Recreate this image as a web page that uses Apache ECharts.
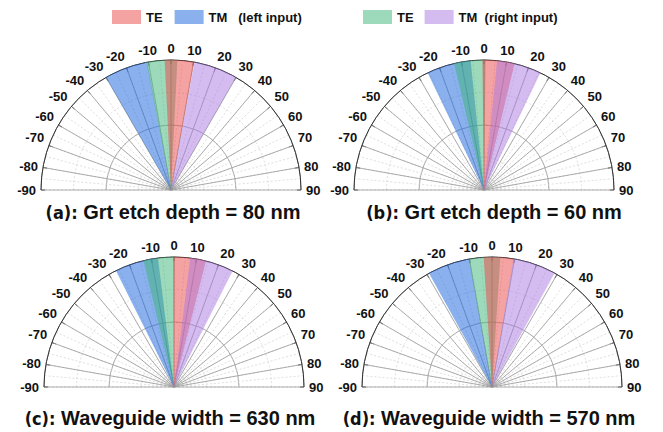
<!DOCTYPE html>
<html>
<head>
<meta charset="utf-8">
<script src="https://cdn.jsdelivr.net/npm/echarts@6/dist/echarts.min.js"></script>
<style>
  html, body { margin: 0; padding: 0; background: #fff; }
  #chart { width: 663px; height: 432px; }
</style>
</head>
<body>
<div id="chart"></div>
<script>
// panel labels and captions
var panelTags = ['(a):', '(b):', '(c):', '(d):'];
var panelTitles = ['Grt etch depth = 80 nm', 'Grt etch depth = 60 nm',
                   'Waveguide width = 630 nm', 'Waveguide width = 570 nm'];

// angular ranges [from, to] in degrees, one per panel
var tmLeft  = [[-30, -10.5], [-25.7, -5.9], [-26.5, -7.1], [-29, -10.1]];
var teRight = [[-10.9, 2.8], [-13.3, 0.7], [-13.6, 0.3], [-10.2, 3.7]];
var teLeft  = [[-2.8, 10.3], [-0.7, 13.6], [-0.3, 14.2], [-3.7, 9.7]];
var tmRight = [[10.4, 30],   [5.8, 25.7],  [7.2, 26.8],  [9.5, 28.8]];

// angle axis range and ticks
var angleMin = -90, angleMax = 90, angleStep = 10;

(function() {
  var chart = echarts.init(document.getElementById('chart'), null, { renderer: 'svg' });
  var font = "'Liberation Sans', Arial, sans-serif";
  var centers = [[171, 190], [484, 190], [174, 387], [492, 387]];
  var titlePos = [[168, 197], [489, 197], [165, 403], [484, 403]];
  var R = 130;

  var modes = [
    { name: 'TM-L', data: tmLeft,  color: 'rgba(30,105,220,0.52)' },
    { name: 'TE-R', data: teRight, color: 'rgba(60,180,120,0.5)' },
    { name: 'TE-L', data: teLeft,  color: 'rgba(236,70,70,0.5)' },
    { name: 'TM-R', data: tmRight, color: 'rgba(170,120,225,0.5)' }
  ];

  function wedge(params, api) {
    var a1 = api.value(0), a2 = api.value(1);
    var pts = [api.coord([0, (a1 + a2) / 2])];
    var n = 30;
    for (var i = 0; i <= n; i++) {
      pts.push(api.coord([1, a1 + (a2 - a1) * i / n]));
    }
    return { type: 'polygon', shape: { points: pts }, style: { fill: api.visual('color') } };
  }

  var polar = [], angleAxis = [], radiusAxis = [], series = [], title = [];
  centers.forEach(function(c, k) {
    // fine dotted grid
    polar.push({ center: c, radius: [0, R] });
    angleAxis.push({
      polarIndex: 2 * k, type: 'value', min: angleMin, max: angleMax, interval: angleStep / 2,
      startAngle: 180, endAngle: 0, clockwise: true,
      axisLine: { show: false }, axisTick: { show: false }, axisLabel: { show: false },
      splitLine: { show: true, lineStyle: { color: '#d6d6d6', width: 0.8, type: [2, 2] } }
    });
    radiusAxis.push({
      polarIndex: 2 * k, type: 'value', min: 0, max: 1, interval: 0.25,
      axisLine: { show: false }, axisTick: { show: false }, axisLabel: { show: false },
      splitLine: { show: true, lineStyle: { color: '#d6d6d6', width: 0.8, type: [2, 2] } }
    });
    // main grid with labels
    polar.push({ center: c, radius: [0, R] });
    angleAxis.push({
      polarIndex: 2 * k + 1, type: 'value', min: angleMin, max: angleMax, interval: angleStep,
      startAngle: 180, endAngle: 0, clockwise: true,
      axisLine: { show: true, lineStyle: { color: '#333', width: 1 } },
      axisTick: { show: true, inside: true, length: 4, lineStyle: { color: '#333' } },
      axisLabel: { show: true, margin: 5, fontSize: 13, fontWeight: 'bold', color: '#111', fontFamily: font },
      splitLine: { show: true, lineStyle: { color: '#999', width: 0.8 } }
    });
    radiusAxis.push({
      polarIndex: 2 * k + 1, type: 'value', min: 0, max: 1, interval: 0.5,
      axisLine: { show: false }, axisTick: { show: false }, axisLabel: { show: false },
      splitLine: { show: true, lineStyle: { color: '#999', width: 0.8 } }
    });

    modes.forEach(function(m) {
      series.push({
        type: 'custom', name: m.name, coordinateSystem: 'polar', polarIndex: 2 * k + 1,
        itemStyle: { color: m.color },
        renderItem: wedge,
        data: [m.data[k]],
        silent: true
      });
    });

    title.push({
      text: '{p|' + panelTags[k] + '} ' + panelTitles[k],
      left: titlePos[k][0], top: titlePos[k][1], textAlign: 'center',
      textStyle: {
        fontSize: 20, fontWeight: 'bold', color: '#111', fontFamily: font,
        rich: { p: { fontSize: 18, fontWeight: 'bold', color: '#111', fontFamily: "'DejaVu Sans Condensed'" } }
      }
    });
  });

  var legendText = { fontSize: 13, fontWeight: 'bold', color: '#111', fontFamily: font };
  chart.setOption({
    animation: false,
    title: title,
    legend: [{
      data: ['TE-L', 'TM-L'], left: 107, top: 5, itemWidth: 29, itemHeight: 14, itemGap: 12,
      icon: 'rect', selectedMode: false, textStyle: legendText,
      formatter: function(n) { return n === 'TE-L' ? 'TE' : 'TM   (left input)'; }
    }, {
      data: ['TE-R', 'TM-R'], left: 358, top: 5, itemWidth: 29, itemHeight: 14, itemGap: 11,
      icon: 'rect', selectedMode: false, textStyle: legendText,
      formatter: function(n) { return n === 'TE-R' ? 'TE' : 'TM  (right input)'; }
    }],
    polar: polar,
    angleAxis: angleAxis,
    radiusAxis: radiusAxis,
    series: series
  });
  window.addEventListener('resize', function() { chart.resize(); });
})();
</script>
</body>
</html>
